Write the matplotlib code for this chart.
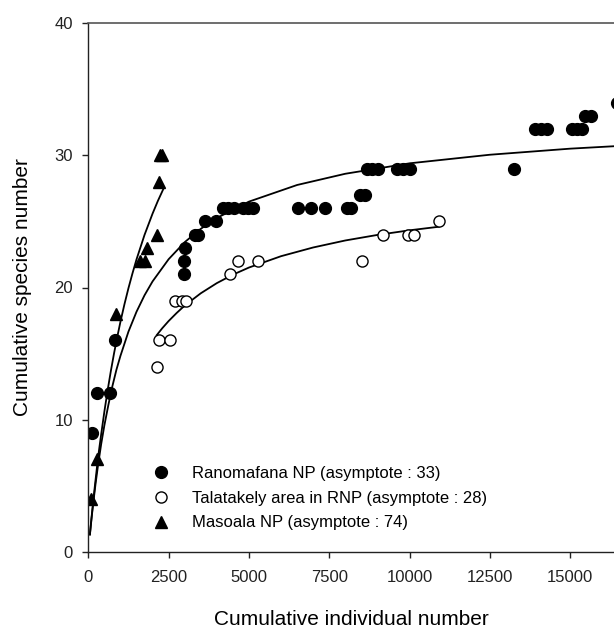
import matplotlib
matplotlib.use("Agg")
import matplotlib.pyplot as plt

plt.rcParams["font.family"] = ["Liberation Sans", "DejaVu Sans"]

# Ranomafana NP (filled circles)
rano_x = [105, 261, 675, 831, 2967, 2985, 3020, 3322, 3426, 3642, 3975,
          4202, 4358, 4535, 4825, 4981, 5117, 6518, 6933, 7378, 8063, 8190,
          8458, 8603, 8685, 8841, 9018, 9619, 9806, 10015, 13252,
          13896, 14083, 14289, 15067, 15223, 15378, 15453, 15639, 16450]
rano_y = [9, 12, 12, 16, 21, 22, 23, 24, 24, 25, 25,
          26, 26, 26, 26, 26, 26, 26, 26, 26, 26, 26,
          27, 27, 29, 29, 29, 29, 29, 29, 29,
          32, 32, 32, 32, 32, 32, 33, 33, 34]

# Talatakely area in RNP (open circles)
tala_x = [2129, 2211, 2543, 2699, 2907, 3032, 4411, 4670, 5292, 8530,
          9174, 9940, 10127, 10917]
tala_y = [14, 16, 16, 19, 19, 19, 21, 22, 22, 22, 24, 24, 24, 25]

# Masoala NP (triangles)
maso_x = [74, 280, 862, 1610, 1760, 1817, 2129, 2191, 2230, 2300]
maso_y = [4, 7, 18, 22, 22, 23, 24, 28, 30, 30]

# fitted accumulation curves
rano_fit_x = [50, 100, 150, 225, 300, 400, 500, 625, 750, 875, 1000, 1250,
              1500, 1750, 2000, 2500, 3000, 3500, 4000, 5000, 6500, 8000,
              10000, 12500, 15000, 17000]
rano_fit_y = [1.29, 2.49, 3.60, 5.12, 6.49, 8.13, 9.56, 11.11, 12.53, 13.77,
              14.82, 16.66, 18.16, 19.41, 20.46, 22.14, 23.43, 24.44, 25.26,
              26.50, 27.76, 28.61, 29.40, 30.05, 30.51, 30.78]

tala_fit_x = [2129, 2300, 2500, 2750, 3000, 3500, 4000, 4500, 5000, 6000,
              7000, 8000, 9000, 10000, 10917]
tala_fit_y = [16.39, 16.91, 17.46, 18.07, 18.63, 19.56, 20.33, 20.97, 21.51,
              22.37, 23.03, 23.56, 23.98, 24.33, 24.60]

maso_fit_x = [50, 100, 150, 200, 250, 300, 400, 500, 600, 700, 800, 900,
              1000, 1125, 1250, 1375, 1500, 1750, 2000, 2165, 2335]
maso_fit_y = [1.32, 2.57, 3.75, 4.88, 5.96, 7.07, 8.87, 10.60, 12.19, 13.65,
              15.00, 16.24, 17.40, 18.73, 19.95, 21.07, 22.12, 23.98, 25.59,
              26.55, 27.45]

labels = ["Ranomafana NP (asymptote : 33)",
          "Talatakely area in RNP (asymptote : 28)",
          "Masoala NP (asymptote : 74)"]

fig = plt.figure(figsize=(6.14, 6.30), dpi=100)
ax = fig.add_axes([88.3 / 614, 78.3 / 630, 1 - 88.3 / 614, 528.4 / 630])

ax.plot(rano_fit_x, rano_fit_y, color="black", lw=1.3)
ax.plot(tala_fit_x, tala_fit_y, color="black", lw=1.3)
ax.plot(maso_fit_x, maso_fit_y, color="black", lw=1.3)

ax.plot(rano_x, rano_y, "o", color="black", ms=8.5, ls="none", label=labels[0])
ax.plot(tala_x, tala_y, "o", mfc="white", mec="black", mew=1.0, ms=8,
        ls="none", label=labels[1])
ax.plot(maso_x, maso_y, "^", color="black", ms=9, ls="none", label=labels[2])

ax.set_xlim(0, 16365)
ax.set_ylim(0, 40)
ax.set_xticks([0, 2500, 5000, 7500, 10000, 12500, 15000])
ax.set_yticks([0, 10, 20, 30, 40])
ax.tick_params(direction="out", length=4, width=1, labelsize=12, colors="#222222")
ax.tick_params(axis="x", pad=9)
ax.tick_params(axis="y", pad=7)

ax.spines["right"].set_visible(False)
for side in ("left", "bottom"):
    ax.spines[side].set_linewidth(1.0)
    ax.spines[side].set_color("#222222")
ax.spines["top"].set_linewidth(1.2)
ax.spines["top"].set_color("#555555")

ax.set_xlabel("Cumulative individual number", fontsize=15, labelpad=18)
ax.set_ylabel("Cumulative species number", fontsize=15, labelpad=16)

ax.legend(loc="upper left", bbox_to_anchor=(153 / 614, (630 - 466) / 630),
          bbox_transform=fig.transFigure, frameon=False, fontsize=12,
          numpoints=1, handlelength=1.0, handletextpad=1.35,
          labelspacing=0.58, borderpad=0, borderaxespad=0)

fig.savefig("out.png", dpi=100)
